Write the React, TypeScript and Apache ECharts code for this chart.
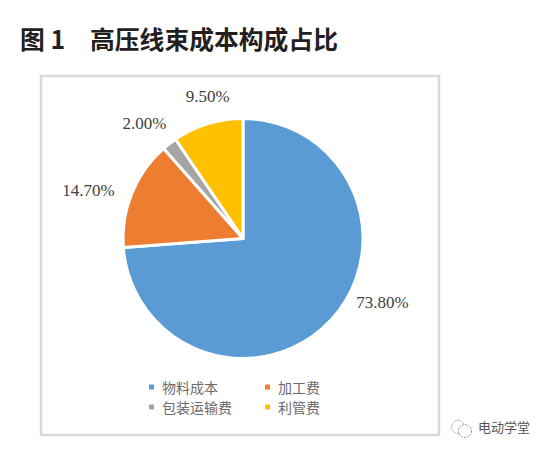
import React, { useEffect, useRef } from "react";
import * as echarts from "echarts";

const categories = ["物料成本", "加工费", "包装运输费", "利管费"];
const values = [73.8, 14.7, 2.0, 9.5];
const colors = ["#5b9bd5", "#ed7d31", "#a5a5a5", "#ffc000"];
const labelShift = [
  { dx: 13, dy: -24 },
  { dx: -3, dy: 1 },
  { dx: 8, dy: -12 },
  { dx: 30, dy: -18 },
];
const CJK = '"Noto Sans CJK SC", sans-serif';

const legendBase = {
  orient: "vertical",
  top: 375,
  itemWidth: 5,
  itemHeight: 5,
  itemGap: 6,
  icon: "rect",
  itemStyle: { borderWidth: 0 },
  textStyle: { fontFamily: CJK, fontSize: 14, color: "#6b6b6b", padding: [0, 0, 0, 3] },
};

export default function App() {
  const ref = useRef<HTMLDivElement>(null);
  useEffect(() => {
    document.body.style.margin = "0";
    const chart = echarts.init(ref.current!, null, { renderer: "svg" });
    chart.setOption({
      animation: false,
      backgroundColor: "#ffffff",
      color: colors,
      legend: [
        { ...legendBase, data: [categories[0], categories[2]], left: 144 },
        { ...legendBase, data: [categories[1], categories[3]], left: 260 },
      ],
      graphic: [
        {
          type: "rect",
          shape: { x: 41, y: 76, width: 398, height: 359 },
          style: { fill: "none", stroke: "#d9d9d9", lineWidth: 2.5 },
          z: 0,
        },
        {
          type: "text",
          x: 20,
          y: 26,
          style: { text: "图 1", font: `bold 24.8px ${CJK}`, fill: "#231f20" },
        },
        {
          type: "text",
          x: 90,
          y: 26,
          style: { text: "高压线束成本构成占比", font: `bold 24.8px ${CJK}`, fill: "#231f20" },
        },
        {
          type: "text",
          x: 478,
          y: 420,
          style: { text: "电动学堂", font: `13px ${CJK}`, fill: "#555555" },
        },
        {
          type: "circle",
          shape: { cx: 458, cy: 427, r: 6.5 },
          style: { fill: "none", stroke: "#aaaaaa", lineWidth: 1, lineDash: [2, 1] },
        },
        {
          type: "circle",
          shape: { cx: 465, cy: 431, r: 6.5 },
          style: { fill: "#fff", stroke: "#999999", lineWidth: 1, lineDash: [2, 1] },
        },
      ],
      series: [
        {
          type: "pie",
          center: [243, 238.5],
          radius: [0, 120],
          startAngle: 90,
          clockwise: true,
          data: categories.map((name, i) => ({ name, value: values[i] })),
          itemStyle: { borderColor: "#ffffff", borderWidth: 3 },
          label: {
            show: true,
            position: "outside",
            formatter: (p: any) => p.value.toFixed(2) + "%",
            fontFamily: '"Liberation Serif", serif',
            fontSize: 17,
            color: "#404040",
          },
          labelLine: { show: false, length: 10, length2: 0 },
          labelLayout: (p: any) => ({
            dx: labelShift[p.dataIndex].dx,
            dy: labelShift[p.dataIndex].dy,
          }),
        },
      ],
    });
    return () => chart.dispose();
  }, []);
  return <div ref={ref} style={{ width: 547, height: 453 }} />;
}
